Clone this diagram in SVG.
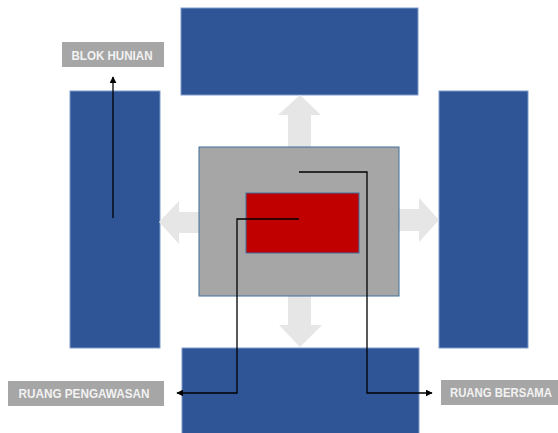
<svg xmlns="http://www.w3.org/2000/svg" width="558" height="433" viewBox="0 0 558 433">
  <defs>
    <marker id="tip" viewBox="0 0 10 10" refX="9" refY="5" markerWidth="7" markerHeight="7" markerUnits="userSpaceOnUse" orient="auto">
      <path d="M0,0 L10,5 L0,10 Z" fill="#000"/>
    </marker>
  </defs>
  <style>
    .blok { fill: #2f5597; stroke: #7f9ccb; stroke-width: 1; }
    .flow { fill: #e7e6e6; }
    .wire { fill: none; stroke: #000; stroke-width: 1.3; marker-end: url(#tip); }
    .tag { fill: #a6a6a6; }
    .tag-text { font-family: "Liberation Sans", Arial, sans-serif; font-size: 12px; font-weight: bold; fill: #f2f2f2; text-anchor: middle; }
  </style>
  <rect width="558" height="433" fill="#fff"/>

  <!-- housing blocks -->
  <g id="blok-atas"><rect class="blok" x="181" y="8" width="237" height="87"/></g>
  <g id="blok-kiri"><rect class="blok" x="70" y="91" width="90" height="257"/></g>
  <g id="blok-kanan"><rect class="blok" x="439" y="91" width="89" height="257"/></g>
  <g id="blok-bawah"><rect class="blok" x="182" y="348" width="237" height="90"/></g>

  <!-- outward flow arrows -->
  <g id="panah-arah">
    <path class="flow" d="M300,95 L321,115 L311,115 L311,147 L288,147 L288,115 L278,115 Z"/>
    <path class="flow" d="M300,347 L322,325 L311,325 L311,296 L288,296 L288,325 L279,325 Z"/>
    <path class="flow" d="M159,222 L179,201 L179,212 L199,212 L199,233 L179,233 L179,244 Z"/>
    <path class="flow" d="M439,220 L419,198 L419,209 L399,209 L399,231 L419,231 L419,242 Z"/>
  </g>

  <!-- shared space and supervision core -->
  <g id="ruang-bersama"><rect x="199" y="147" width="200" height="149" fill="#a6a6a6" stroke="#41719c" stroke-width="1"/></g>
  <g id="ruang-pengawasan"><rect x="246" y="193" width="113" height="60" fill="#c00000" stroke="#41719c" stroke-width="1"/></g>

  <!-- leader lines -->
  <g id="connectors">
    <path class="wire" d="M113,218 L113,77"/>
    <path class="wire" d="M299,219 L237,219 L237,393 L177,393"/>
    <path class="wire" d="M299,172 L367,172 L367,393 L432,393"/>
  </g>

  <!-- labels -->
  <g id="label-blok-hunian">
    <rect class="tag" x="62" y="42" width="102" height="25"/>
    <text class="tag-text" x="112" y="60" textLength="81" lengthAdjust="spacingAndGlyphs">BLOK HUNIAN</text>
  </g>
  <g id="label-ruang-pengawasan">
    <rect class="tag" x="8" y="381" width="156" height="25"/>
    <text class="tag-text" x="84" y="398" textLength="131" lengthAdjust="spacingAndGlyphs">RUANG PENGAWASAN</text>
  </g>
  <g id="label-ruang-bersama">
    <rect class="tag" x="441" y="380" width="125" height="25"/>
    <text class="tag-text" x="501" y="397" textLength="102" lengthAdjust="spacingAndGlyphs">RUANG BERSAMA</text>
  </g>
</svg>
